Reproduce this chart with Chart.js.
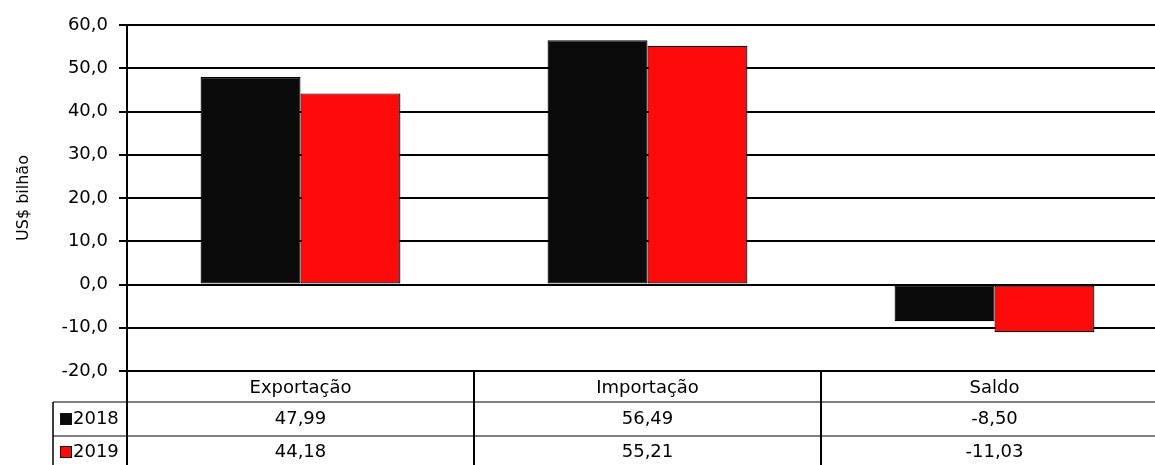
<!DOCTYPE html>
<html>
<head>
<meta charset="utf-8">
<script src="https://cdn.jsdelivr.net/npm/chart.js@4.4.1/dist/chart.umd.min.js"></script>
<style>
  html, body { margin: 0; padding: 0; background: #fff; overflow: hidden; }
  #wrap { position: relative; width: 1168px; height: 465px; }
</style>
</head>
<body>
<div id="wrap"><canvas id="chart"></canvas></div>
<script>
// Data
const categories = ['Exportação', 'Importação', 'Saldo'];
const years = ['2018', '2019'];
const values2018 = [47.99, 56.49, -8.50];
const values2019 = [44.18, 55.21, -11.03];
const yMin = -20;
const yMax = 60;
const yStep = 10;
const yTitle = 'US$ bilhão';

const colors = ['#0a0a0a', '#ff0a0a'];
const series = [values2018, values2019];

const fmt = (v, d) => v.toFixed(d).replace('.', ',');

Chart.defaults.font.family = "'DejaVu Sans', sans-serif";
Chart.defaults.font.size = 18;
Chart.defaults.color = '#000';

// data table under the plot
const dataTable = {
    id: 'dataTable',
    afterDraw(chart) {
        const { ctx, chartArea, scales } = chart;
        const x = scales.x;
        const top = chartArea.bottom;
        const bottom = chart.height;
        const right = chart.width;
        const headH = 31;
        const rowH = 34;
        const leftCol = 53;

        ctx.save();

        // gray row lines
        ctx.strokeStyle = '#808080';
        ctx.lineWidth = 2;
        for (let r = 1; r <= years.length; r++) {
            const y = top + headH + rowH * (r - 1);
            ctx.beginPath();
            ctx.moveTo(leftCol, y);
            ctx.lineTo(right, y);
            ctx.stroke();
        }

        // black verticals
        ctx.strokeStyle = '#000';
        ctx.lineWidth = 2;
        ctx.beginPath();
        ctx.moveTo(chartArea.left, top);
        ctx.lineTo(chartArea.left, bottom);
        for (let i = 1; i < categories.length; i++) {
            const bx = (x.getPixelForValue(i - 1) + x.getPixelForValue(i)) / 2;
            ctx.moveTo(bx, top);
            ctx.lineTo(bx, bottom);
        }
        ctx.stroke();

        ctx.lineWidth = 1.5;
        ctx.beginPath();
        ctx.moveTo(leftCol, top + headH);
        ctx.lineTo(leftCol, bottom);
        ctx.stroke();

        // texts
        ctx.fillStyle = '#000';
        ctx.font = "18px 'DejaVu Sans', sans-serif";
        ctx.textAlign = 'center';
        ctx.textBaseline = 'middle';
        categories.forEach((c, i) => {
            ctx.fillText(c, x.getPixelForValue(i), top + headH / 2 + 2);
        });
        series.forEach((vals, r) => {
            const cy = top + headH + rowH * r + rowH / 2 - (r ? 1 : 0);
            vals.forEach((v, i) => {
                ctx.fillText(fmt(v, 2), x.getPixelForValue(i), cy);
            });
            // legend key
            ctx.fillStyle = colors[r];
            ctx.fillRect(60, cy - 6, 12, 12);
            ctx.strokeStyle = '#111';
            ctx.lineWidth = 1;
            ctx.strokeRect(60.5, cy - 5.5, 11, 11);
            ctx.fillStyle = '#000';
            ctx.textAlign = 'left';
            ctx.fillText(years[r], 73, cy);
            ctx.textAlign = 'center';
        });

        ctx.restore();
    }
};

new Chart(document.getElementById('chart'), {
    type: 'bar',
    data: {
        labels: categories,
        datasets: years.map((yr, i) => ({
            label: yr,
            data: series[i],
            backgroundColor: colors[i],
            borderColor: '#000',
            borderWidth: 1.2,
            borderSkipped: false,
            categoryPercentage: 0.576,
            barPercentage: 1
        }))
    },
    options: {
        responsive: true,
        maintainAspectRatio: false,
        animation: false,
        layout: { padding: { top: 25, bottom: 94, left: 0, right: 0 } },
        plugins: {
            legend: { display: false },
            tooltip: { enabled: false }
        },
        scales: {
            x: { display: false },
            y: {
                min: yMin,
                max: yMax,
                ticks: {
                    stepSize: yStep,
                    padding: 11,
                    callback: v => fmt(v, 1)
                },
                grid: {
                    color: '#000',
                    lineWidth: 2,
                    tickLength: 8
                },
                border: { color: '#000', width: 2 },
                title: {
                    display: true,
                    text: yTitle,
                    font: { size: 16 },
                    padding: { top: 14, bottom: 0 }
                },
                afterFit(scale) { scale.width = 127; }
            }
        }
    },
    plugins: [dataTable]
});
</script>
</body>
</html>
